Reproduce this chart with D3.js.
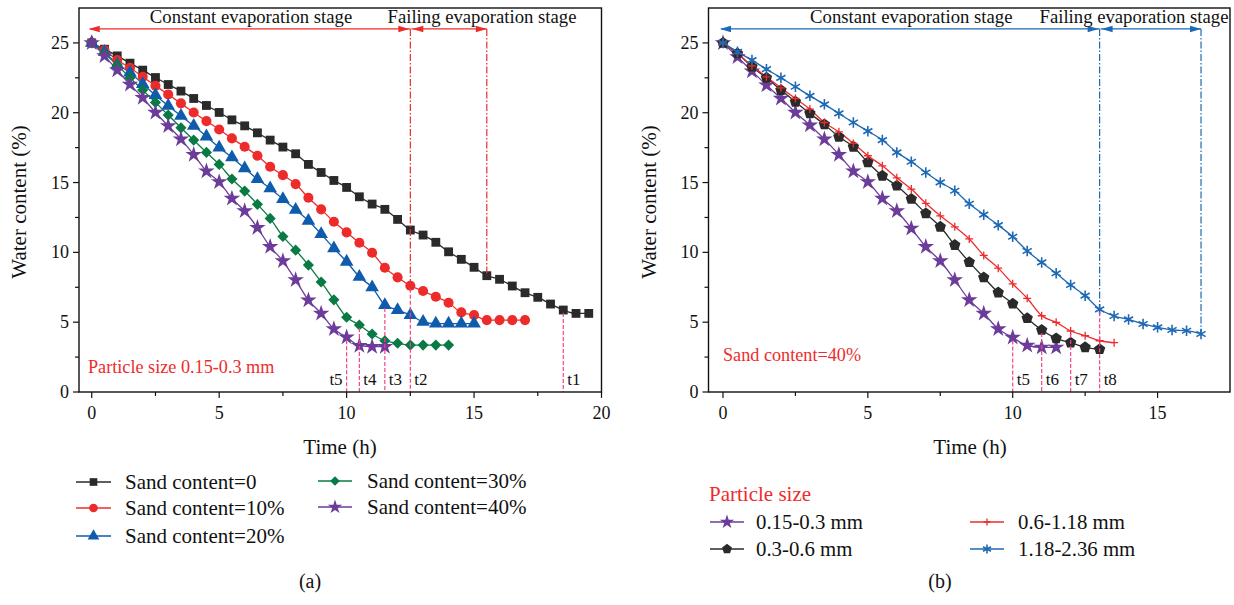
<!DOCTYPE html>
<html><head><meta charset="utf-8">
<script src="https://cdn.jsdelivr.net/npm/d3@7"></script>
<style>
body{margin:0;background:#fff}
svg text{font-family:"Liberation Serif","DejaVu Serif",serif;fill:#111}
</style>
</head><body>
<svg id="c" width="1234" height="605"></svg>
<script>
// ---------- DATA ----------
const timeH = [0,0.5,1,1.5,2,2.5,3,3.5,4,4.5,5,5.5,6,6.5,7,7.5,8,8.5,9,9.5,10,10.5,11,11.5,12,12.5,13,13.5,14,14.5,15,15.5,16,16.5,17,17.5,18,18.5,19,19.5];

// Panel (a): particle size 0.15-0.3 mm, different sand contents
const sand0  = [25,24.55,24.07,23.55,23.05,22.52,22.02,21.55,21.02,20.52,20.02,19.49,19.06,18.56,18.04,17.54,17.06,16.3,15.72,15.15,14.65,13.98,13.46,13.08,12.36,11.6,11.24,10.72,10.04,9.5,8.93,8.33,8.07,7.59,7.11,6.78,6.3,5.87,5.63,5.63];
const sand10 = [25,24.48,23.77,23.22,22.57,21.93,21.31,20.67,20.02,19.4,18.8,18.16,17.56,16.92,16.13,15.53,14.89,13.91,13.08,12.19,11.43,10.69,9.97,8.9,8.21,7.61,7.23,6.82,6.39,5.7,5.51,5.15,5.15,5.15,5.15];
const sand20 = [25,24.36,23.45,22.88,22.05,21.26,20.5,19.78,19.06,18.3,17.51,16.8,16.01,15.25,14.58,13.82,13.05,12.26,11.31,10.29,9.33,8.25,7.49,6.23,5.87,5.51,5.03,4.9,4.9,4.9,4.9];
const sand30 = [25,24.24,23.41,22.5,21.62,20.74,19.83,18.92,18.04,17.16,16.3,15.25,14.39,13.44,12.43,11.14,10.16,9.09,7.88,6.6,5.35,4.8,4.15,3.67,3.49,3.36,3.36,3.36,3.36];
const sand40 = [25,24.07,23.05,22.02,21.07,20.02,19.06,18.11,17.0,15.82,15.05,13.86,12.96,11.76,10.4,9.38,8.02,6.58,5.63,4.51,3.92,3.32,3.25,3.25];
const legendA = ["Sand content=0","Sand content=10%","Sand content=20%","Sand content=30%","Sand content=40%"];

// Panel (b): sand content 40%, different particle sizes
const size015 = [25,24.0,22.98,21.98,21.02,20.02,19.11,18.11,17.0,15.82,15.05,13.86,12.96,11.72,10.4,9.38,8.02,6.59,5.63,4.51,3.9,3.33,3.2,3.2];
const size03  = [25,24.24,23.29,22.5,21.62,20.78,19.95,19.16,18.27,17.56,16.44,15.48,14.77,13.82,12.79,11.83,10.52,9.3,8.2,7.12,6.32,5.28,4.44,3.84,3.53,3.2,3.06];
const size06  = [25,24.24,23.36,22.57,21.78,21.02,20.26,19.3,18.63,17.8,16.92,16.2,15.34,14.53,13.51,12.62,11.83,10.96,9.78,8.87,7.75,6.71,5.46,4.99,4.37,4.03,3.67,3.53];
const size118 = [25,24.36,23.77,23.12,22.5,21.86,21.21,20.6,19.95,19.3,18.68,18.04,17.16,16.49,15.72,15.01,14.41,13.48,12.7,11.95,11.12,10.1,9.28,8.5,7.66,6.9,5.92,5.44,5.2,4.87,4.63,4.44,4.39,4.15];
const legendB = ["0.15-0.3 mm","0.3-0.6 mm","0.6-1.18 mm","1.18-2.36 mm"];

const xTicksA = [0,5,10,15,20];
const xTicksB = [0,5,10,15];
const yTicks = [0,5,10,15,20,25];

// stage annotations (time in h)
const stagesA = [0,12.5,15.5];
const stagesB = [0,13,16.5];
const tMarksA = [{label:"t5",t:10,s:4},{label:"t4",t:10.5,s:3},{label:"t3",t:11.5,s:2},{label:"t2",t:12.5,s:1},{label:"t1",t:18.5,s:0}];
const tMarksB = [{label:"t5",t:10,s:0},{label:"t6",t:11,s:1},{label:"t7",t:12,s:2},{label:"t8",t:13,s:3}];

// ---------- SYMBOLS ----------
const pentagon = {draw(ctx,size){const r=Math.sqrt(size/2.378);for(let i=0;i<5;i++){const a=-Math.PI/2+i*2*Math.PI/5;const px=r*Math.cos(a),py=r*Math.sin(a);i?ctx.lineTo(px,py):ctx.moveTo(px,py);}ctx.closePath();}};
const plusSym = {draw(ctx,size){const r=Math.sqrt(size)/2;ctx.moveTo(-r,0);ctx.lineTo(r,0);ctx.moveTo(0,-r);ctx.lineTo(0,r);}};
const asterisk = {draw(ctx,size){const r=Math.sqrt(size)/2;for(const a of [90,30,-30]){const rad=a*Math.PI/180;const dx=r*Math.cos(rad),dy=r*Math.sin(rad);ctx.moveTo(-dx,-dy);ctx.lineTo(dx,dy);}}};

const svg = d3.select("#c");
const RED="#ee2b2b", BLACK="#2a2a2a", BLUE="#0f5cad", GREEN="#0a7a45", PURPLE="#6b3c99", PINK="#f5428a", BLUE2="#1d69b4";

function makeMarker(g, spec, x, y){
  const p = g.append("path").attr("transform",`translate(${x},${y})${spec.rot?` rotate(${spec.rot})`:""}`)
    .attr("d", d3.symbol().type(spec.type).size(spec.size)());
  if(spec.stroke){p.attr("fill","none").attr("stroke",spec.color).attr("stroke-width",spec.sw||1.4);}
  else{p.attr("fill",spec.color);}
}

function panel(cfg){
  const g = svg.append("g");
  const x = d3.scaleLinear().domain(cfg.xdom).range(cfg.xr);
  const y = d3.scaleLinear().domain([0,27.5]).range([392,8]);

  // series
  cfg.series.forEach(s=>{
    const pts = s.values.map((v,i)=>[timeH[i],v]);
    g.append("path").datum(pts).attr("fill","none").attr("stroke",s.color).attr("stroke-width",1.3)
      .attr("d", d3.line().x(d=>x(d[0])).y(d=>y(d[1])).curve(d3.curveMonotoneX));
  });
  cfg.series.forEach(s=>{
    s.values.forEach((v,i)=>makeMarker(g,s,x(timeH[i]),y(v)));
  });

  // stage lines (dash-dot)
  const ay = y(26.0);
  const st = cfg.stages;
  const sidx = [cfg.stageSeries[0], cfg.stageSeries[1]];
  [st[1],st[2]].forEach((t,k)=>{
    const s = cfg.series[sidx[k]];
    const v = s.values[timeH.indexOf(t)];
    g.append("line").attr("x1",x(t)).attr("x2",x(t)).attr("y1",ay).attr("y2",y(v))
      .attr("stroke",cfg.stageColor).attr("stroke-width",1.2).attr("stroke-dasharray","7,2,1.5,2");
  });
  // arrows
  function arrowHead(xt, dir){
    g.append("path").attr("d",`M${xt},${ay} L${xt-dir*11},${ay-3.2} L${xt-dir*11},${ay+3.2} Z`).attr("fill",cfg.stageColor);
  }
  g.append("line").attr("x1",x(st[0])-2).attr("x2",x(st[1])).attr("y1",ay).attr("y2",ay).attr("stroke",cfg.stageColor).attr("stroke-width",1.3);
  g.append("line").attr("x1",x(st[1])+1).attr("x2",x(st[2])).attr("y1",ay).attr("y2",ay).attr("stroke",cfg.stageColor).attr("stroke-width",1.3);
  arrowHead(x(st[0])-3,-1); arrowHead(x(st[1])-1,1); arrowHead(x(st[1])+2,-1); arrowHead(x(st[2]),1);
  g.append("text").attr("x",(x(st[0])+x(st[1]))/2).attr("y",ay-6).attr("text-anchor","middle").attr("font-size",18.7).text("Constant evaporation stage");
  g.append("text").attr("x",cfg.failX).attr("y",ay-6).attr("text-anchor","middle").attr("font-size",18.7).text("Failing evaporation stage");

  // t markers
  cfg.tMarks.forEach(m=>{
    const s = cfg.series[m.s];
    const v = s.values[timeH.indexOf(m.t)];
    g.append("line").attr("x1",x(m.t)).attr("x2",x(m.t)).attr("y1",y(v)+3).attr("y2",y(0))
      .attr("stroke",PINK).attr("stroke-width",1.2).attr("stroke-dasharray","4,2");
    const left = m.label==="t5" && cfg.id==="a";
    g.append("text").attr("x",left?x(m.t)-4:x(m.t)+4).attr("y",385).attr("text-anchor",left?"end":"start")
      .attr("font-size",17).text(m.label);
  });

  // frame
  g.append("rect").attr("x",cfg.xr[0]).attr("y",8).attr("width",cfg.xr[1]-cfg.xr[0]).attr("height",384)
    .attr("fill","none").attr("stroke","#111").attr("stroke-width",1.4);
  // x ticks
  const xMajor = cfg.xTicks;
  const xMinor = xMajor.slice(0,-1).map(t=>t+2.5).concat(cfg.extraMinor);
  xMajor.forEach(t=>{
    g.append("line").attr("x1",x(t)).attr("x2",x(t)).attr("y1",392).attr("y2",398).attr("stroke","#111").attr("stroke-width",1.2);
    g.append("text").attr("x",x(t)).attr("y",419).attr("text-anchor","middle").attr("font-size",18).text(t);
  });
  xMinor.forEach(t=>g.append("line").attr("x1",x(t)).attr("x2",x(t)).attr("y1",392).attr("y2",396).attr("stroke","#111").attr("stroke-width",1.2));
  yTicks.forEach(v=>{
    g.append("line").attr("x1",cfg.xr[0]).attr("x2",cfg.xr[0]-6).attr("y1",y(v)).attr("y2",y(v)).attr("stroke","#111").attr("stroke-width",1.2);
    g.append("text").attr("x",cfg.xr[0]-10).attr("y",y(v)+6).attr("text-anchor","end").attr("font-size",18).text(v);
  });
  [2.5,7.5,12.5,17.5,22.5].forEach(v=>g.append("line").attr("x1",cfg.xr[0]).attr("x2",cfg.xr[0]-4).attr("y1",y(v)).attr("y2",y(v)).attr("stroke","#111").attr("stroke-width",1.2));

  // axis titles
  g.append("text").attr("x",cfg.titleX).attr("y",454).attr("text-anchor","middle").attr("font-size",21).text("Time (h)");
  g.append("text").attr("transform",`translate(${cfg.xr[0]-53},202) rotate(-90)`).attr("text-anchor","middle").attr("font-size",21).text("Water content (%)");
  // inner note
  g.append("text").attr("x",cfg.noteX).attr("y",cfg.noteY).attr("font-size",18.2).style("fill",RED).text(cfg.note);
  // panel label
  g.append("text").attr("x",cfg.titleX-30).attr("y",588).attr("text-anchor","middle").attr("font-size",20).text(cfg.panelLabel);

  // legend
  cfg.legend.forEach(l=>{
    const s = cfg.series[l.s];
    g.append("line").attr("x1",l.x).attr("x2",l.x+l.w).attr("y1",l.y).attr("y2",l.y).attr("stroke",s.color).attr("stroke-width",1.4);
    makeMarker(g,Object.assign({},s,{size:s.size*0.75}),l.x+l.w/2,l.y);
    g.append("text").attr("x",l.tx).attr("y",l.y+7).attr("font-size",cfg.legendSize).text(l.text);
  });
}

panel({
  id:"a", xdom:[-0.5,20], xr:[79,601.5], xTicks:xTicksA, extraMinor:[], titleX:340, failX:482,
  stages:stagesA, stageSeries:[1,0], stageColor:RED, tMarks:tMarksA,
  note:"Particle size 0.15-0.3 mm", noteX:88, noteY:373, panelLabel:"(a)", legendSize:21,
  series:[
    {values:sand0, color:BLACK, type:d3.symbolSquare, size:78},
    {values:sand10, color:RED, type:d3.symbolCircle, size:80},
    {values:sand20, color:BLUE, type:d3.symbolTriangle, size:80},
    {values:sand30, color:GREEN, type:d3.symbolSquare, size:62, rot:45},
    {values:sand40, color:PURPLE, type:d3.symbolStar, size:85}
  ],
  legend:[
    {s:0,x:76,w:35,y:482,tx:125,text:legendA[0]},
    {s:1,x:76,w:35,y:508,tx:125,text:legendA[1]},
    {s:2,x:76,w:35,y:536,tx:125,text:legendA[2]},
    {s:3,x:318,w:34,y:481,tx:367,text:legendA[3]},
    {s:4,x:318,w:34,y:507,tx:367,text:legendA[4]}
  ]
});

panel({
  id:"b", xdom:[-0.5,17.5], xr:[708.5,1230], xTicks:xTicksB, extraMinor:[], titleX:970, failX:1134,
  stages:stagesB, stageSeries:[3,3], stageColor:BLUE2, tMarks:tMarksB,
  note:"Sand content=40%", noteX:723, noteY:361, panelLabel:"(b)", legendSize:20.8,
  series:[
    {values:size015, color:PURPLE, type:d3.symbolStar, size:85},
    {values:size03, color:BLACK, type:pentagon, size:85},
    {values:size06, color:RED, type:plusSym, size:64, stroke:true, sw:1.3},
    {values:size118, color:BLUE2, type:asterisk, size:110, stroke:true, sw:1.6}
  ],
  legend:[
    {s:0,x:710,w:34,y:522,tx:756,text:legendB[0]},
    {s:1,x:710,w:34,y:549,tx:756,text:legendB[1]},
    {s:2,x:970,w:34,y:522,tx:1018,text:legendB[2]},
    {s:3,x:970,w:34,y:549,tx:1018,text:legendB[3]}
  ]
});
svg.append("text").attr("x",709).attr("y",501).attr("font-size",21).style("fill",RED).text("Particle size");
</script>
</body></html>
